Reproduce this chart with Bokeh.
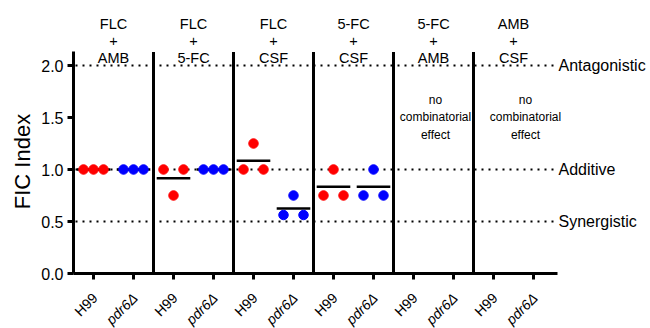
import numpy as np
from math import pi
from bokeh.plotting import figure
from bokeh.models import Range1d, FixedTicker, NumeralTickFormatter, LinearAxis
from bokeh.core.properties import value
from bokeh.embed import file_html
from bokeh.resources import INLINE

# ---------------- data ----------------
strains = ["H99", "pdr6Δ"]
combos = ["FLC\n+\nAMB", "FLC\n+\n5-FC", "FLC\n+\nCSF",
          "5-FC\n+\nCSF", "5-FC\n+\nAMB", "AMB\n+\nCSF"]
# FIC index of three replicates (left-to-right as plotted); None = no combinatorial effect
h99_fic = [[1.0, 1.0, 1.0], [1.0, 0.75, 1.0], [1.0, 1.25, 1.0],
           [0.75, 1.0, 0.75], None, None]
pdr6_fic = [[1.0, 1.0, 1.0], [1.0, 1.0, 1.0], [0.5625, 0.75, 0.5625],
            [0.75, 1.0, 0.75], None, None]
ref_levels = [2.0, 1.0, 0.5]
ref_labels = ["Antagonistic", "Additive", "Synergistic"]
y_ticks = [0.0, 0.5, 1.0, 1.5, 2.0]
y_title = "FIC Index"
no_effect_text = "no\ncombinatorial\neffect"

FONT = "Liberation Sans"
RED = "#FF0000"
BLUE = "#0000FF"
colors = [RED, BLUE]

n_cat = len(combos) * len(strains)
x_end_axis = n_cat - 0.4
y_top_axis = 2.13

W, H = 650, 328
p = figure(width=W, height=H, output_backend="svg", toolbar_location=None,
           x_axis_type=None, y_axis_type=None,
           x_range=Range1d(-93 / 40, (W - 93) / 40),
           y_range=Range1d(-(H - 273) / 104, 273 / 104),
           min_border_left=0, min_border_right=0, min_border_top=0,
           min_border_bottom=0)
p.outline_line_color = None
p.background_fill_color = "white"
p.border_fill_color = "white"


def style_axis(ax):
    ax.axis_line_width = 3
    ax.axis_line_color = "black"
    ax.major_tick_line_width = 3
    ax.major_tick_line_color = "black"
    ax.major_tick_out = 6
    ax.major_tick_in = 0
    ax.minor_tick_line_color = None
    ax.major_label_text_font = FONT
    ax.major_label_text_color = "black"


# y axis
yax = LinearAxis(ticker=FixedTicker(ticks=y_ticks),
                 formatter=NumeralTickFormatter(format="0.0"),
                 bounds=(0, y_top_axis), fixed_location=-0.5)
style_axis(yax)
yax.major_label_text_font_size = "16px"
yax.major_label_standoff = 4
p.add_layout(yax, "left")

# x axis (tick marks); strain names are drawn below as rotated texts
x_ticks = list(range(n_cat))
xax = LinearAxis(ticker=FixedTicker(ticks=x_ticks),
                 major_label_overrides={t: "" for t in x_ticks},
                 bounds=(-0.5, x_end_axis), fixed_location=0)
style_axis(xax)
p.add_layout(xax, "below")

for s, name in enumerate(strains):
    xs = [2 * g + s for g in range(len(combos))]
    p.text(x=xs, y=[0] * len(xs), text=[name] * len(xs), angle=pi / 4,
           x_offset=1.5, y_offset=22, text_align="right", text_baseline="middle",
           text_font=value(FONT), text_font_size="14px",
           text_font_style="italic" if s == 1 else "normal", text_color="black")

# reference lines
p.segment(x0=[-0.45] * len(ref_levels), x1=[x_end_axis - 0.05] * len(ref_levels),
          y0=ref_levels, y1=ref_levels, line_color="black", line_width=2,
          line_dash="2 5")
p.text(x=[x_end_axis + 0.025] * len(ref_labels), y=ref_levels, text=ref_labels,
       text_font=value(FONT), text_font_size="16px", text_align="left",
       text_baseline="middle", text_color="black")

# group separators
sep_x = [2 * g + 1.5 for g in range(len(combos) - 1)]
p.segment(x0=sep_x, x1=sep_x, y0=[0] * len(sep_x), y1=[y_top_axis] * len(sep_x),
          line_color="black", line_width=3)

# group titles
centers = [2 * g + 0.5 for g in range(len(combos))]
p.text(x=centers, y=[2.235] * len(centers), text=combos, text_font=value(FONT),
       text_font_size="14.5px", text_align="center", text_baseline="middle",
       text_line_height=1.07, text_color="black")

# points and means
jitter = [-0.25, 0.0, 0.25]
px, py, pc = [], [], []
mx0, mx1, my = [], [], []
empty_groups = []
for g in range(len(combos)):
    for s, vals in enumerate([h99_fic[g], pdr6_fic[g]]):
        k = 2 * g + s
        if vals is None:
            if g not in empty_groups:
                empty_groups.append(g)
            continue
        for j, v in zip(jitter, vals):
            px.append(k + j)
            py.append(v)
            pc.append(colors[s])
        m = float(np.mean(vals))
        mx0.append(k - 0.42)
        mx1.append(k + 0.42)
        my.append(m)

p.segment(x0=mx0, x1=mx1, y0=my, y1=my, line_color="black", line_width=2.5)
p.scatter(x=px, y=py, fill_color=pc, line_color=pc, size=9.5)

# no-effect notes
ne_shift = [0.05, 0.3]
p.text(x=[centers[g] + d for g, d in zip(empty_groups, ne_shift)],
       y=[1.5] * len(empty_groups), text=[no_effect_text] * len(empty_groups),
       text_font=value(FONT), text_font_size="12px", text_align="center",
       text_baseline="middle", text_line_height=1.27, text_color="black")

# y axis title
p.text(x=[-1.775], y=[1.077], text=[y_title], angle=pi / 2,
       text_align="center", text_baseline="middle",
       text_font=value(FONT), text_font_size="22px", text_color="black")

open("out.html", "w").write(file_html(p, INLINE))
